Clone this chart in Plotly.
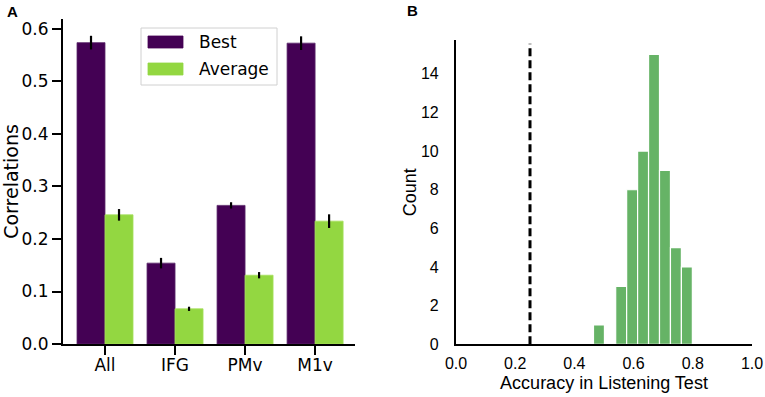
import plotly.graph_objects as go

# ---------------- data ----------------
regions = ["All", "IFG", "PMv", "M1v"]
best_vals = [0.574, 0.154, 0.264, 0.573]
best_err = [0.013, 0.010, 0.006, 0.013]
avg_vals = [0.246, 0.067, 0.131, 0.234]
avg_err = [0.011, 0.004, 0.006, 0.013]
a_yticks = [0.0, 0.1, 0.2, 0.3, 0.4, 0.5, 0.6]

hist_centers = [0.483, 0.520, 0.558, 0.595, 0.632, 0.669, 0.706, 0.743, 0.780]
hist_counts = [1, 0, 3, 8, 10, 15, 9, 5, 4]
bin_width = 0.037
chance_level = 0.25
b_yticks = [0, 2, 4, 6, 8, 10, 12, 14]
b_xticks = [0.0, 0.2, 0.4, 0.6, 0.8, 1.0]

# ---------------- style ----------------
PURPLE = "#440154"
LIME = "#93d741"
HGREEN = "#66b366"
DJ = "DejaVu Sans"
AR = "Liberation Sans, Arial"

fig = go.Figure()

fig.add_trace(go.Bar(
    x=regions, y=best_vals, name="Best",
    marker=dict(color=PURPLE, line=dict(color="#5b2a6b", width=0.8)),
    error_y=dict(type="data", array=best_err, color="black", thickness=2.2, width=0),
    xaxis="x", yaxis="y", showlegend=False,
))
fig.add_trace(go.Bar(
    x=regions, y=avg_vals, name="Average",
    marker=dict(color=LIME, line=dict(color="#a6e05c", width=0.8)),
    error_y=dict(type="data", array=avg_err, color="black", thickness=2.2, width=0),
    xaxis="x", yaxis="y", showlegend=False,
))

fig.add_trace(go.Bar(
    x=hist_centers, y=hist_counts, width=[bin_width] * len(hist_centers),
    marker=dict(color=HGREEN, line=dict(color="white", width=1.2)),
    xaxis="x2", yaxis="y2", showlegend=False,
))

W, H = 765, 397
axA_x = [63 / W, 355 / W]
axA_y = [1 - 344 / H, 1 - 19 / H]
axB_x = [456 / W, 752 / W]
axB_y = [1 - 344.3 / H, 1 - 40 / H]

fig.update_layout(
    width=W, height=H,
    margin=dict(l=0, r=0, t=0, b=0),
    paper_bgcolor="white", plot_bgcolor="white",
    barmode="group", bargap=0.2, bargroupgap=0,
    font=dict(family=DJ, color="black"),
    xaxis=dict(
        domain=axA_x, anchor="y", range=[-0.6, 3.57], automargin=False,
        showline=True, linecolor="black", linewidth=2,
        ticks="outside", ticklen=9, tickwidth=2, tickcolor="black",
        ticklabelstandoff=-4,
        tickfont=dict(family=DJ, size=17), showgrid=False, zeroline=False,
    ),
    yaxis=dict(
        domain=axA_y, anchor="x", range=[0, 0.619], automargin=False,
        tickvals=a_yticks, tickformat=".1f",
        showline=True, linecolor="black", linewidth=2,
        ticks="outside", ticklen=9, tickwidth=2, tickcolor="black",
        tickfont=dict(family=DJ, size=17), showgrid=False, zeroline=False,
        title=dict(text="Correlations", font=dict(family=DJ, size=19), standoff=4),
    ),
    xaxis2=dict(
        domain=axB_x, anchor="y2", range=[0, 1], automargin=False,
        tickvals=b_xticks, tickformat=".1f",
        showline=True, linecolor="black", linewidth=2.2,
        ticks="", tickfont=dict(family=AR, size=16),
        ticklabelstandoff=3,
        showgrid=False, zeroline=False,
        title=dict(text="Accuracy in Listening Test", font=dict(family=AR, size=18), standoff=6),
    ),
    yaxis2=dict(
        domain=axB_y, anchor="x2", range=[0, 15.75], automargin=False,
        tickvals=b_yticks,
        showline=True, linecolor="black", linewidth=2.2,
        ticks="", tickfont=dict(family=AR, size=16),
        ticklabelstandoff=12,
        showgrid=False, zeroline=False,
        title=dict(text="Count", font=dict(family=AR, size=18), standoff=0),
    ),
)

# chance-level dashed line
fig.add_shape(type="line", xref="x2", yref="y2 domain",
              x0=chance_level, x1=chance_level, y0=0, y1=0.988,
              line=dict(color="black", width=3, dash="8px,4px"))

# manual legend (matplotlib-style patches)
lx0, ly0, lx1, ly1 = 141 / W, 1 - 28 / H, 277 / W, 1 - 85 / H
fig.add_shape(type="rect", xref="paper", yref="paper",
              x0=lx0, x1=lx1, y0=ly1, y1=ly0,
              line=dict(color="#d0d0d0", width=1), fillcolor="white", layer="above")
legend_items = [("Best", PURPLE, 42), ("Average", LIME, 69)]
for name, col, yc in legend_items:
    fig.add_shape(type="rect", xref="paper", yref="paper",
                  x0=148 / W, x1=183 / W, y0=1 - (yc + 6) / H, y1=1 - (yc - 6) / H,
                  line=dict(color=col, width=0.8), fillcolor=col, layer="above")
    fig.add_annotation(x=197 / W, y=1 - yc / H, xref="paper", yref="paper",
                       text=name, showarrow=False, xanchor="left", yanchor="middle",
                       font=dict(family=DJ, size=17, color="black"))

# panel labels
fig.add_annotation(x=12 / W, y=1 - 12 / H, xref="paper", yref="paper", text="<b>A</b>",
                   showarrow=False, xanchor="center", yanchor="middle",
                   font=dict(family=AR, size=15, color="black"))
fig.add_annotation(x=412 / W, y=1 - 11 / H, xref="paper", yref="paper", text="<b>B</b>",
                   showarrow=False, xanchor="center", yanchor="middle",
                   font=dict(family=AR, size=15, color="black"))

fig.write_html(
    "out.html",
    config={"displayModeBar": False},
    post_script="document.body.style.margin='0';document.body.style.overflow='hidden';",
)
